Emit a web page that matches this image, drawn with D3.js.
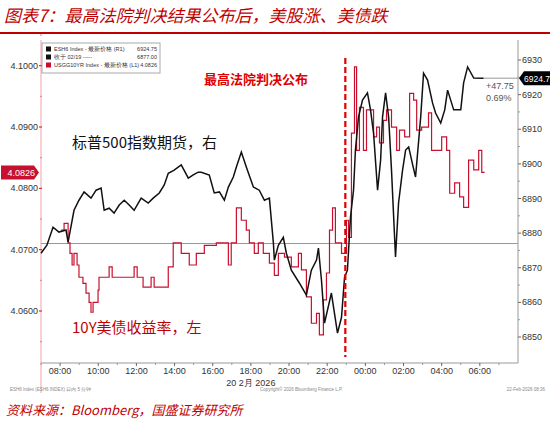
<!DOCTYPE html>
<html><head><meta charset="utf-8">
<script src="https://cdn.jsdelivr.net/npm/d3@7"></script>
<style>body{margin:0;background:#fff}svg{font-family:"Liberation Sans",Arial,sans-serif}</style>
</head><body><svg id="c" width="550" height="426"></svg>
<script>
// hours after 07:00 on 20 Feb 2026 (Beijing time)
const esTime=[0,0.31,0.63,0.94,1.31,1.42,1.73,1.99,2.26,2.62,2.89,3.15,3.31,3.57,3.83,4.10,4.36,4.62,4.88,5.25,5.62,5.88,6.20,6.46,6.67,6.98,7.35,7.72,7.98,8.24,8.40,8.82,9.08,9.35,9.61,9.82,10.08,10.24,10.50,10.76,11.13,11.44,11.71,11.97,12.18,12.23,12.44,12.70,12.86,13.12,13.54,13.91,14.17,14.44,14.54,14.70,14.86,15.22,15.54,15.75,15.91,16.06,16.22,16.38,16.48,16.64,16.85,17.11,17.27,17.43,17.64,17.80,17.90,18.06,18.22,18.37,18.58,18.74,18.95,19.11,19.27,19.48,19.63,19.90,20.05,20.26,20.52,20.68,20.95,21.16,21.31,21.63,22.00,22.15,22.36,22.68,23.20];
const esValue=[6874.2,6876.5,6881.7,6880.3,6880.9,6877.4,6886.6,6889.5,6891.9,6890.1,6892.4,6893.0,6886.6,6887.2,6885.8,6888.1,6889.5,6888.1,6886.6,6890.1,6888.7,6890.1,6891.6,6893.9,6897.3,6898.2,6899.7,6895.9,6896.8,6897.6,6897.6,6896.8,6891.6,6891.9,6889.5,6893.3,6896.2,6899.1,6903.4,6899.1,6893.3,6892.4,6889.5,6890.1,6877.1,6872.2,6876.5,6878.8,6874.2,6869.3,6865.6,6862.1,6869.3,6872.2,6875.7,6866.4,6854.0,6862.7,6851.1,6855.7,6867.3,6869.3,6884.6,6892.4,6904.0,6913.5,6918.4,6920.5,6915.6,6908.9,6892.4,6901.1,6913.5,6920.5,6913.5,6898.2,6873.1,6888.7,6898.2,6904.0,6904.9,6899.7,6896.2,6913.5,6926.2,6924.2,6917.6,6914.7,6911.8,6915.6,6921.3,6915.6,6915.6,6923.4,6928.0,6924.8,6924.75];
const ytTime=[1.05,1.21,1.42,1.52,1.63,1.73,1.89,1.99,2.20,2.36,2.52,2.62,2.73,2.99,3.04,3.52,3.57,3.73,4.83,4.88,5.04,5.35,5.77,5.93,6.46,6.67,6.93,7.19,7.35,7.61,7.77,7.87,8.14,8.56,9.19,9.71,9.82,9.97,10.24,10.50,10.76,10.92,11.18,11.39,11.65,11.97,12.23,12.44,12.76,13.12,13.49,13.65,13.91,14.17,14.44,14.59,14.80,14.96,15.12,15.28,15.43,15.75,16.01,16.12,16.27,16.43,16.54,16.69,16.90,17.06,17.43,17.59,17.74,17.95,18.11,18.37,18.64,18.79,19.06,19.32,19.53,19.69,19.95,20.31,20.47,20.73,21.00,21.26,21.42,21.68,21.94,22.15,22.41,22.68,22.94,23.10,23.25];
const ytValue=[4.0732,4.0743,4.0711,4.0694,4.0675,4.0694,4.0675,4.0655,4.0645,4.0629,4.0614,4.0598,4.0614,4.0634,4.0655,4.0655,4.0672,4.0655,4.0655,4.0672,4.0655,4.0639,4.0655,4.0639,4.0639,4.0672,4.0711,4.0711,4.0694,4.0694,4.0675,4.0675,4.0694,4.0707,4.0711,4.0711,4.0675,4.0711,4.0768,4.0748,4.0732,4.0711,4.0694,4.0711,4.0694,4.0678,4.0658,4.0694,4.0688,4.0672,4.0694,4.0667,4.0623,4.0580,4.0596,4.0561,4.0618,4.0662,4.0732,4.0768,4.0711,4.0694,4.0748,4.0720,4.0890,4.0998,4.0862,4.0932,4.0862,4.0928,4.0884,4.0900,4.0874,4.0911,4.0928,4.0900,4.0862,4.0895,4.0884,4.0955,4.0944,4.0895,4.0900,4.0923,4.0862,4.0862,4.0884,4.0862,4.0792,4.0809,4.0786,4.0769,4.0846,4.0830,4.0862,4.0826,4.0826];
const xTickLabels=["08:00","10:00","12:00","14:00","16:00","18:00","20:00","22:00","00:00","02:00","04:00","06:00"];
const leftTicks=[4.06,4.07,4.08,4.09,4.10];
const rightTicks=[6850,6860,6870,6880,6890,6900,6910,6920,6930];
const prevClose=6877.00, lastES=6924.75, lastYield=4.0826, eventHour=15.95;
const legendRows=[["ESH6 Index - 最新价格 (R1)","6924.75","#111"],["收于 02/19 -----","6877.00","#111"],["USGG10YR Index - 最新价格 (L1)","4.0826","#c8102e"]];

const svg=d3.select("#c");
const L=41,R=518,T=40,B=363;
const x=d3.scaleLinear().domain([0,25]).range([L,R]);
const yl=d3.scaleLinear().domain([4.06,4.10]).range([311,65.7]);
const yr=d3.scaleLinear().domain([6850,6930]).range([337,60]);

svg.append("text").attr("x",4).attr("y",22).attr("fill","#c00000").attr("font-size",17).attr("font-style","italic")
 .attr("font-family","'Noto Sans CJK SC'").text("图表7：最高法院判决结果公布后，美股涨、美债跌");
svg.append("line").attr("x1",0).attr("x2",550).attr("y1",33).attr("y2",33).attr("stroke","#c00000").attr("stroke-width",2);

svg.append("line").attr("x1",L).attr("x2",L).attr("y1",T).attr("y2",B+30).attr("stroke","#f0a0aa").attr("stroke-width",1);
svg.append("line").attr("x1",R).attr("x2",R).attr("y1",T).attr("y2",B).attr("stroke","#999");
svg.append("line").attr("x1",L).attr("x2",R).attr("y1",B).attr("y2",B).attr("stroke","#999");

const lg=svg.append("g");
leftTicks.forEach(v=>{
 lg.append("text").attr("x",L-3).attr("y",yl(v)+3).attr("text-anchor","end").attr("font-size",9).attr("fill","#333").text(v.toFixed(4));
 lg.append("line").attr("x1",L-2).attr("x2",L+1).attr("y1",yl(v)).attr("y2",yl(v)).attr("stroke","#c8102e");
 lg.append("line").attr("x1",L-1).attr("x2",L+1).attr("y1",yl(v+0.005)).attr("y2",yl(v+0.005)).attr("stroke","#e08090");
});
lg.append("line").attr("x1",L-1).attr("x2",L+1).attr("y1",yl(4.055)).attr("y2",yl(4.055)).attr("stroke","#e08090");
rightTicks.forEach(v=>{
 svg.append("text").attr("x",R+4).attr("y",yr(v)+3).attr("font-size",9).attr("fill","#333").text(v);
 svg.append("line").attr("x1",R).attr("x2",R+3).attr("y1",yr(v)).attr("y2",yr(v)).attr("stroke","#666");
 if(v<6930) svg.append("line").attr("x1",R).attr("x2",R+2).attr("y1",yr(v+5)).attr("y2",yr(v+5)).attr("stroke","#999");
});
xTickLabels.forEach((t,i)=>{
 const h=1+2*i;
 svg.append("text").attr("x",x(h)).attr("y",B+11).attr("text-anchor","middle").attr("font-size",9).attr("fill","#333").text(t);
 svg.append("line").attr("x1",x(h)).attr("x2",x(h)).attr("y1",B).attr("y2",B+3).attr("stroke","#666");
 svg.append("line").attr("x1",x(h+1)).attr("x2",x(h+1)).attr("y1",B).attr("y2",B+2).attr("stroke","#999");
});
svg.append("line").attr("x1",x(0)).attr("x2",x(0)).attr("y1",B).attr("y2",B+2).attr("stroke","#999");
svg.append("text").attr("x",x(11)).attr("y",B+23).attr("text-anchor","middle").attr("font-size",9).attr("fill","#333").text("20 2月 2026");

svg.append("line").attr("x1",L).attr("x2",R).attr("y1",yr(prevClose)).attr("y2",yr(prevClose)).attr("stroke","#999").attr("stroke-width",1);

svg.append("path").datum(ytTime.map((t,i)=>[t,ytValue[i]])).attr("fill","none").attr("stroke","#c8102e").attr("stroke-width",1.2)
 .attr("d",d3.line().curve(d3.curveStepAfter).x(d=>x(d[0])).y(d=>yl(d[1])));
svg.append("path").datum(esTime.map((t,i)=>[t,esValue[i]])).attr("fill","none").attr("stroke","#111").attr("stroke-width",1.5)
 .attr("d",d3.line().x(d=>x(d[0])).y(d=>yr(d[1])));

svg.append("line").attr("x1",x(eventHour)).attr("x2",x(eventHour)).attr("y1",58).attr("y2",B-6).attr("stroke","#e00000").attr("stroke-width",2.2).attr("stroke-dasharray","6,3");

svg.append("line").attr("x1",x(23.2)).attr("x2",R).attr("y1",yr(lastES)).attr("y2",yr(lastES)).attr("stroke","#999");
svg.append("path").attr("d",`M${R+1},${yr(lastES)} l5,-7 h30 v14 h-30 z`).attr("fill","#000");
svg.append("text").attr("x",R+6).attr("y",yr(lastES)+3.5).attr("fill","#fff").attr("font-size",8.5).text(lastES.toFixed(2).slice(0,6));
svg.append("path").attr("d",`M${L-2},${yl(lastYield)} l-5,-7 h-33 v14 h33 z`).attr("fill","#c8102e");
svg.append("text").attr("x",L-6).attr("y",yl(lastYield)+3.5).attr("text-anchor","end").attr("fill","#fff").attr("font-size",9).text(lastYield.toFixed(4));
svg.append("text").attr("x",486).attr("y",yr(lastES)+11).attr("font-size",9).attr("fill","#555").text("+"+(lastES-prevClose).toFixed(2));
svg.append("text").attr("x",486).attr("y",yr(lastES)+23).attr("font-size",9).attr("fill","#555").text(((lastES-prevClose)/prevClose*100).toFixed(2)+"%");

const lgd=svg.append("g");
lgd.append("rect").attr("x",42).attr("y",43).attr("width",118).attr("height",30).attr("fill","#fff").attr("stroke","#aaa");
legendRows.forEach((r,i)=>{
 const yy=51+i*8;
 lgd.append("rect").attr("x",46).attr("y",yy-4.5).attr("width",5).attr("height",5).attr("fill",r[2]);
 lgd.append("text").attr("x",54).attr("y",yy).attr("font-size",5.5).attr("fill","#333").text(r[0]);
 lgd.append("text").attr("x",157).attr("y",yy).attr("text-anchor","end").attr("font-size",5.5).attr("fill","#333").text(r[1]);
});

const cj="'Noto Sans CJK SC'";
svg.append("text").attr("x",204).attr("y",84).attr("font-size",13).attr("font-weight","bold").attr("fill","#e00000").attr("font-family",cj).text("最高法院判决公布");
svg.append("text").attr("x",72).attr("y",148).attr("font-size",15).attr("fill","#111").attr("font-family",cj).text("标普500指数期货，右");
svg.append("text").attr("x",72).attr("y",333).attr("font-size",15).attr("fill","#c00000").attr("font-family",cj).text("10Y美债收益率，左");

svg.append("text").attr("x",10).attr("y",391).attr("font-size",4.5).attr("fill","#888").text("ESH6 Index (ESH6 INDEX) 日内  5 分钟");
svg.append("text").attr("x",260).attr("y",391).attr("font-size",4.5).attr("fill","#888").text("Copyright© 2026 Bloomberg Finance L.P.");
svg.append("text").attr("x",545).attr("y",391).attr("text-anchor","end").attr("font-size",4.5).attr("fill","#888").text("22-Feb-2026 08:36");
svg.append("text").attr("x",6).attr("y",415).attr("font-size",13).attr("font-style","italic").attr("fill","#c00000").attr("font-family",cj).text("资料来源：Bloomberg，国盛证券研究所");
</script></body></html>
